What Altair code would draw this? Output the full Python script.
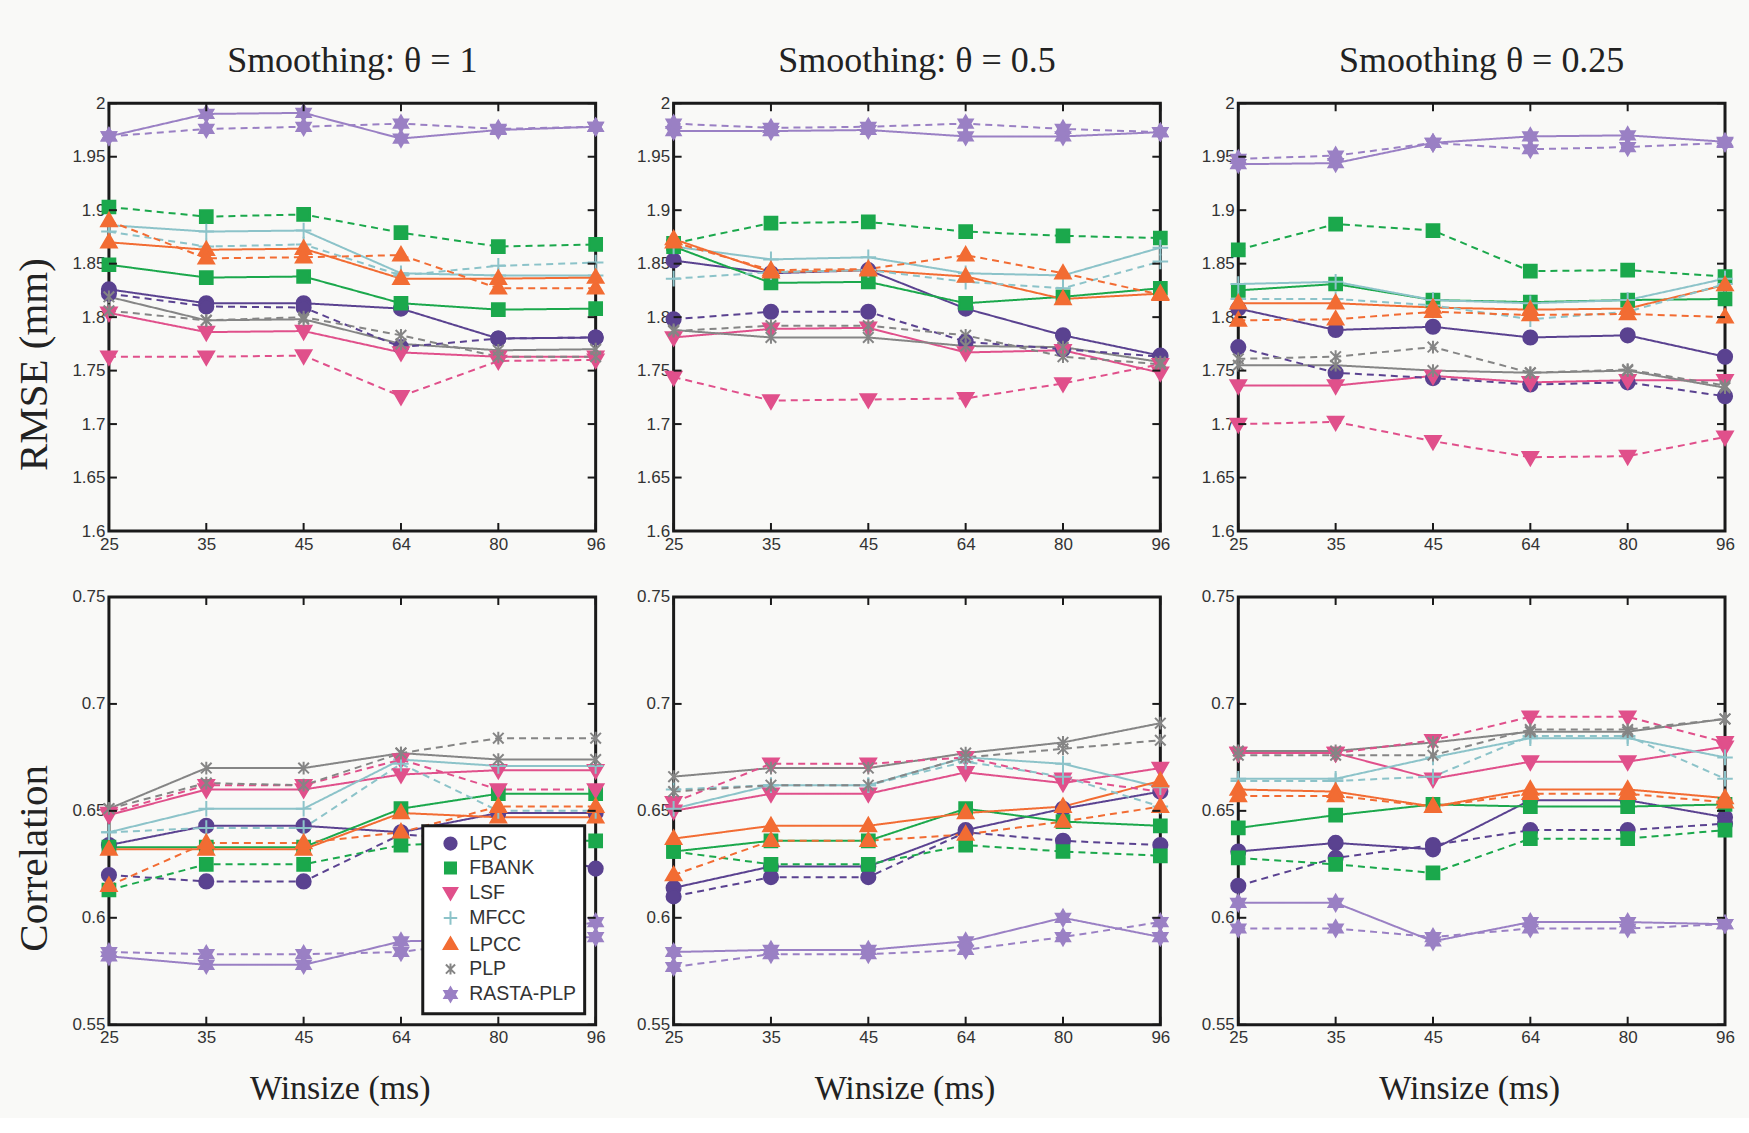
import altair as alt
import pandas as pd

WINSIZE = ["25", "35", "45", "64", "80", "96"]
FEATURES = ["LPC", "FBANK", "LSF", "MFCC", "LPCC", "PLP", "RASTA-PLP"]
COLORS = ["#5a4290", "#1ba84c", "#e0508b", "#8cc3c9", "#f26c33", "#858585", "#9a80c4"]
THETA_TITLES = ["Smoothing: θ = 1", "Smoothing: θ = 0.5", "Smoothing θ = 0.25"]
RMSE_TICKS = [1.6, 1.65, 1.7, 1.75, 1.8, 1.85, 1.9, 1.95, 2.0]
CORR_TICKS = [0.55, 0.6, 0.65, 0.7, 0.75]

# ---------------- RMSE (mm) ----------------
RMSE_T1_SOLID = {
    "LPC": [1.826, 1.813, 1.813, 1.808, 1.780, 1.781],
    "FBANK": [1.849, 1.837, 1.838, 1.813, 1.807, 1.808],
    "LSF": [1.804, 1.786, 1.787, 1.767, 1.763, 1.763],
    "MFCC": [1.886, 1.880, 1.881, 1.841, 1.839, 1.839],
    "LPCC": [1.870, 1.863, 1.864, 1.836, 1.836, 1.837],
    "PLP": [1.819, 1.797, 1.798, 1.775, 1.769, 1.770],
    "RASTA-PLP": [1.969, 1.990, 1.991, 1.967, 1.975, 1.978],
}
RMSE_T1_DASHED = {
    "LPC": [1.822, 1.810, 1.809, 1.772, 1.780, 1.781],
    "FBANK": [1.903, 1.894, 1.896, 1.879, 1.866, 1.868],
    "LSF": [1.763, 1.763, 1.764, 1.726, 1.759, 1.760],
    "MFCC": [1.880, 1.866, 1.868, 1.839, 1.848, 1.851],
    "LPCC": [1.890, 1.855, 1.856, 1.858, 1.827, 1.827],
    "PLP": [1.806, 1.797, 1.800, 1.783, 1.763, 1.763],
    "RASTA-PLP": [1.969, 1.976, 1.978, 1.981, 1.976, 1.978],
}
RMSE_T05_SOLID = {
    "LPC": [1.853, 1.841, 1.844, 1.808, 1.783, 1.764],
    "FBANK": [1.866, 1.832, 1.833, 1.813, 1.819, 1.827],
    "LSF": [1.781, 1.789, 1.790, 1.767, 1.769, 1.748],
    "MFCC": [1.866, 1.854, 1.856, 1.841, 1.839, 1.865],
    "LPCC": [1.873, 1.842, 1.844, 1.838, 1.817, 1.822],
    "PLP": [1.788, 1.781, 1.781, 1.773, 1.772, 1.758],
    "RASTA-PLP": [1.974, 1.974, 1.975, 1.969, 1.969, 1.973],
}
RMSE_T05_DASHED = {
    "LPC": [1.798, 1.805, 1.805, 1.777, 1.770, 1.763],
    "FBANK": [1.869, 1.888, 1.889, 1.880, 1.876, 1.874],
    "LSF": [1.744, 1.722, 1.723, 1.724, 1.738, 1.756],
    "MFCC": [1.836, 1.842, 1.844, 1.833, 1.827, 1.852],
    "LPCC": [1.870, 1.844, 1.845, 1.858, 1.841, 1.821],
    "PLP": [1.787, 1.792, 1.792, 1.783, 1.763, 1.756],
    "RASTA-PLP": [1.981, 1.977, 1.978, 1.981, 1.976, 1.973],
}
RMSE_T025_SOLID = {
    "LPC": [1.808, 1.788, 1.791, 1.781, 1.783, 1.763],
    "FBANK": [1.825, 1.831, 1.816, 1.814, 1.816, 1.817],
    "LSF": [1.736, 1.736, 1.745, 1.739, 1.741, 1.741],
    "MFCC": [1.831, 1.833, 1.816, 1.813, 1.816, 1.836],
    "LPCC": [1.813, 1.813, 1.809, 1.807, 1.808, 1.830],
    "PLP": [1.755, 1.755, 1.750, 1.748, 1.750, 1.734],
    "RASTA-PLP": [1.943, 1.944, 1.963, 1.969, 1.970, 1.964],
}
RMSE_T025_DASHED = {
    "LPC": [1.772, 1.748, 1.743, 1.737, 1.739, 1.726],
    "FBANK": [1.863, 1.887, 1.881, 1.843, 1.844, 1.838],
    "LSF": [1.700, 1.702, 1.684, 1.669, 1.670, 1.688],
    "MFCC": [1.817, 1.817, 1.811, 1.798, 1.805, 1.831],
    "LPCC": [1.797, 1.798, 1.805, 1.802, 1.803, 1.800],
    "PLP": [1.761, 1.763, 1.772, 1.748, 1.751, 1.736],
    "RASTA-PLP": [1.948, 1.951, 1.963, 1.957, 1.959, 1.963],
}

# ---------------- Correlation ----------------
CORR_T1_SOLID = {
    "LPC": [0.634, 0.643, 0.643, 0.640, 0.649, 0.649],
    "FBANK": [0.633, 0.633, 0.633, 0.651, 0.658, 0.658],
    "LSF": [0.648, 0.660, 0.660, 0.667, 0.669, 0.669],
    "MFCC": [0.640, 0.651, 0.651, 0.674, 0.671, 0.671],
    "LPCC": [0.632, 0.632, 0.632, 0.649, 0.647, 0.647],
    "PLP": [0.651, 0.670, 0.670, 0.677, 0.674, 0.674],
    "RASTA-PLP": [0.582, 0.578, 0.578, 0.589, 0.590, 0.591],
}
CORR_T1_DASHED = {
    "LPC": [0.620, 0.617, 0.617, 0.639, 0.636, 0.623],
    "FBANK": [0.613, 0.625, 0.625, 0.634, 0.636, 0.636],
    "LSF": [0.649, 0.662, 0.662, 0.674, 0.660, 0.660],
    "MFCC": [0.640, 0.642, 0.642, 0.672, 0.650, 0.650],
    "LPCC": [0.615, 0.635, 0.635, 0.640, 0.652, 0.652],
    "PLP": [0.651, 0.663, 0.662, 0.677, 0.684, 0.684],
    "RASTA-PLP": [0.584, 0.583, 0.583, 0.584, 0.590, 0.598],
}
CORR_T05_SOLID = {
    "LPC": [0.614, 0.624, 0.624, 0.641, 0.651, 0.659],
    "FBANK": [0.631, 0.636, 0.636, 0.651, 0.645, 0.643],
    "LSF": [0.650, 0.658, 0.658, 0.668, 0.663, 0.670],
    "MFCC": [0.651, 0.662, 0.662, 0.675, 0.672, 0.661],
    "LPCC": [0.637, 0.643, 0.643, 0.649, 0.652, 0.664],
    "PLP": [0.666, 0.670, 0.670, 0.677, 0.682, 0.691],
    "RASTA-PLP": [0.584, 0.585, 0.585, 0.589, 0.600, 0.591],
}
CORR_T05_DASHED = {
    "LPC": [0.610, 0.619, 0.619, 0.640, 0.636, 0.634],
    "FBANK": [0.631, 0.625, 0.625, 0.634, 0.631, 0.629],
    "LSF": [0.654, 0.672, 0.672, 0.675, 0.665, 0.659],
    "MFCC": [0.660, 0.662, 0.662, 0.673, 0.666, 0.652],
    "LPCC": [0.620, 0.636, 0.636, 0.639, 0.645, 0.652],
    "PLP": [0.659, 0.662, 0.662, 0.675, 0.679, 0.683],
    "RASTA-PLP": [0.577, 0.583, 0.583, 0.585, 0.591, 0.598],
}
CORR_T025_SOLID = {
    "LPC": [0.631, 0.635, 0.632, 0.655, 0.655, 0.647],
    "FBANK": [0.642, 0.648, 0.653, 0.652, 0.652, 0.653],
    "LSF": [0.677, 0.677, 0.665, 0.673, 0.673, 0.680],
    "MFCC": [0.665, 0.665, 0.675, 0.684, 0.684, 0.675],
    "LPCC": [0.660, 0.659, 0.652, 0.660, 0.660, 0.656],
    "PLP": [0.678, 0.678, 0.682, 0.687, 0.687, 0.693],
    "RASTA-PLP": [0.607, 0.607, 0.589, 0.598, 0.598, 0.597],
}
CORR_T025_DASHED = {
    "LPC": [0.615, 0.628, 0.634, 0.641, 0.641, 0.644],
    "FBANK": [0.628, 0.625, 0.621, 0.637, 0.637, 0.641],
    "LSF": [0.677, 0.677, 0.683, 0.694, 0.694, 0.682],
    "MFCC": [0.664, 0.664, 0.666, 0.685, 0.685, 0.665],
    "LPCC": [0.657, 0.657, 0.652, 0.658, 0.658, 0.654],
    "PLP": [0.676, 0.676, 0.676, 0.688, 0.688, 0.693],
    "RASTA-PLP": [0.595, 0.595, 0.591, 0.595, 0.595, 0.597],
}

# ---------------- styling ----------------
W, H = 487, 428
TICK = 8
SERIF = "Liberation Serif"
SANS = "Liberation Sans"

MARKERS = [
    "M-1,0A1,1 0 1,0 1,0A1,1 0 1,0 -1,0Z",
    "M-0.9,-0.9H0.9V0.9H-0.9Z",
    "M-1.1,-0.75L1.1,-0.75L0,1.15Z",
    "M-1.1,0H1.1M0,-1.1V1.1",
    "M-1.1,0.75L1.1,0.75L0,-1.15Z",
    "M-0.75,-0.75L0.75,0.75M-0.75,0.75L0.75,-0.75M0,-0.9V0.9",
    "M0,-1.15L1,0.58L-1,0.58Z M0,1.15L-1,-0.58L1,-0.58Z",
]

LEGEND = alt.Legend(
    title=None,
    orient="bottom-right",
    offset=11,
    fillColor="white",
    strokeColor="#1a1a1a",
    padding=8,
    symbolSize=150,
    symbolOffset=10,
    symbolStrokeWidth=2,
    labelFont=SANS,
    labelFontSize=19.5,
    labelColor="#333333",
    labelOffset=9,
    rowPadding=3.5,
)


def make_df(solid, dashed):
    rows = []
    for style, table in (("solid", solid), ("dashed", dashed)):
        for feat in FEATURES:
            for w, v in zip(WINSIZE, table[feat]):
                rows.append({"Feature": feat, "Style": style, "Winsize": w, "Value": v})
    return pd.DataFrame(rows)


def panel(solid, dashed, ydomain, yticks, title=None, ytitle=None, xtitle=None, legend=False):
    df = make_df(solid, dashed)
    xscale = alt.Scale(type="point", padding=0, domain=WINSIZE)
    yscale = alt.Scale(domain=ydomain, zero=False, nice=False)
    x = alt.X(
        "Winsize:O",
        scale=xscale,
        sort=WINSIZE,
        axis=alt.Axis(
            title=xtitle,
            labelAngle=0,
            ticks=False,
            domain=False,
            labelPadding=5,
            labelFont=SANS,
            labelFontSize=17,
            labelColor="#333333",
            titleFont=SERIF,
            titleFontSize=34,
            titleFontWeight="normal",
            titleColor="#222222",
            titlePadding=26,
            titleX=231,
        ),
    )
    y = alt.Y(
        "Value:Q",
        scale=yscale,
        axis=alt.Axis(
            title=ytitle,
            values=yticks,
            format=".2~f",
            ticks=False,
            domain=False,
            grid=False,
            labelPadding=4,
            labelFont=SANS,
            labelFontSize=17,
            labelColor="#333333",
            titleFont=SERIF,
            titleFontSize=41,
            titleFontWeight="normal",
            titleColor="#222222",
            titlePadding=16,
            titleY=261,
        ),
    )
    lines = alt.Chart(df).mark_line(strokeWidth=2).encode(
        x=x,
        y=y,
        color=alt.Color("Feature:N", scale=alt.Scale(domain=FEATURES, range=COLORS), legend=None),
        strokeDash=alt.StrokeDash(
            "Style:N",
            scale=alt.Scale(domain=["solid", "dashed"], range=[[1, 0], [7, 5]]),
            legend=None,
        ),
        detail="Style:N",
    )
    layers = [lines]
    if legend:
        layers.append(
            alt.Chart(df)
            .mark_point(filled=True, size=200, strokeWidth=2, opacity=1)
            .encode(
                x=x,
                y=y,
                fill=alt.Fill("Feature:N", scale=alt.Scale(domain=FEATURES, range=COLORS), legend=LEGEND),
                stroke=alt.Stroke("Feature:N", scale=alt.Scale(domain=FEATURES, range=COLORS), legend=LEGEND),
                shape=alt.Shape("Feature:N", scale=alt.Scale(domain=FEATURES, range=MARKERS), legend=LEGEND),
            )
        )
    else:
        for feat, col, shp in zip(FEATURES, COLORS, MARKERS):
            layers.append(
                alt.Chart(df)
                .transform_filter(alt.datum.Feature == feat)
                .mark_point(shape=shp, filled=True, fill=col, stroke=col, size=200, strokeWidth=2, opacity=1)
                .encode(x=x, y=y)
            )
    xt = pd.DataFrame({"Winsize": WINSIZE})
    yt = pd.DataFrame({"Value": yticks})
    layers += [
        alt.Chart(xt).mark_rule(color="#1a1a1a", strokeWidth=2).encode(
            x=alt.X("Winsize:O", scale=xscale, sort=WINSIZE), y=alt.value(0), y2=alt.value(TICK)
        ),
        alt.Chart(xt).mark_rule(color="#1a1a1a", strokeWidth=2).encode(
            x=alt.X("Winsize:O", scale=xscale, sort=WINSIZE), y=alt.value(H - TICK), y2=alt.value(H)
        ),
        alt.Chart(yt).mark_rule(color="#1a1a1a", strokeWidth=2).encode(
            y=alt.Y("Value:Q", scale=yscale), x=alt.value(0), x2=alt.value(TICK)
        ),
        alt.Chart(yt).mark_rule(color="#1a1a1a", strokeWidth=2).encode(
            y=alt.Y("Value:Q", scale=yscale), x=alt.value(W - TICK), x2=alt.value(W)
        ),
    ]
    ch = alt.layer(*layers).properties(width=W, height=H)
    if title:
        ch = ch.properties(
            title=alt.TitleParams(
                title, font=SERIF, fontSize=36, fontWeight="normal", color="#222222", offset=14, anchor="middle"
            )
        )
    return ch


panels = [
    panel(RMSE_T1_SOLID, RMSE_T1_DASHED, [1.6, 2.0], RMSE_TICKS, THETA_TITLES[0], "RMSE (mm)"),
    panel(RMSE_T05_SOLID, RMSE_T05_DASHED, [1.6, 2.0], RMSE_TICKS, THETA_TITLES[1]),
    panel(RMSE_T025_SOLID, RMSE_T025_DASHED, [1.6, 2.0], RMSE_TICKS, THETA_TITLES[2]),
    panel(CORR_T1_SOLID, CORR_T1_DASHED, [0.55, 0.75], CORR_TICKS, None, "Correlation", "Winsize (ms)", legend=True),
    panel(CORR_T05_SOLID, CORR_T05_DASHED, [0.55, 0.75], CORR_TICKS, None, None, "Winsize (ms)"),
    panel(CORR_T025_SOLID, CORR_T025_DASHED, [0.55, 0.75], CORR_TICKS, None, None, "Winsize (ms)"),
]

chart = (
    alt.concat(*panels, columns=3, spacing={"row": 66, "column": 78}, bounds="flush")
    .resolve_scale(fill="independent", stroke="independent", shape="independent")
    .resolve_legend(fill="independent", stroke="independent", shape="independent")
    .properties(background="#f9f9f7", padding={"left": 12, "top": 41, "right": 10, "bottom": 10})
    .configure_view(stroke="#1a1a1a", strokeWidth=3)
    .configure_legend(strokeWidth=3)
)

chart.save("out.html", embed_options={"renderer": "svg", "actions": False})
